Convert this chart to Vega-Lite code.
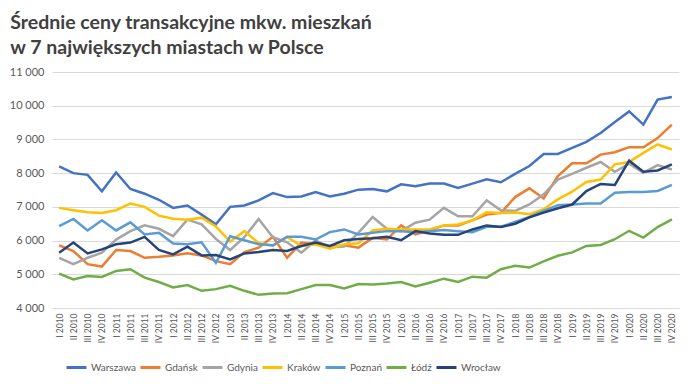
{
"$schema":"https://vega.github.io/schema/vega-lite/v6.json",
"width":627,"height":236,
"autosize":{"type":"none"},
"padding":{"left":52,"top":72,"right":14,"bottom":76},
"background":"white",
"title":{"text":["Średnie ceny transakcyjne mkw. mieszkań","w 7 największych miastach w Polsce"],"anchor":"start","dx":1,"font":"Lato","fontSize":19.5,"fontWeight":"bold","color":"#404040","lineHeight":25,"offset":8},
"config":{"view":{"stroke":null},"font":"Lato"},
"datasets":{"rows":[
{"q":"I 2010","m":"Warszawa","v":8200},{"q":"II 2010","m":"Warszawa","v":8000},{"q":"III 2010","m":"Warszawa","v":7950},{"q":"IV 2010","m":"Warszawa","v":7460},
{"q":"I 2011","m":"Warszawa","v":8020},{"q":"II 2011","m":"Warszawa","v":7530},{"q":"III 2011","m":"Warszawa","v":7390},{"q":"IV 2011","m":"Warszawa","v":7210},
{"q":"I 2012","m":"Warszawa","v":6970},{"q":"II 2012","m":"Warszawa","v":7040},{"q":"III 2012","m":"Warszawa","v":6770},{"q":"IV 2012","m":"Warszawa","v":6480},
{"q":"I 2013","m":"Warszawa","v":7000},{"q":"II 2013","m":"Warszawa","v":7040},{"q":"III 2013","m":"Warszawa","v":7190},{"q":"IV 2013","m":"Warszawa","v":7410},
{"q":"I 2014","m":"Warszawa","v":7290},{"q":"II 2014","m":"Warszawa","v":7310},{"q":"III 2014","m":"Warszawa","v":7440},{"q":"IV 2014","m":"Warszawa","v":7310},
{"q":"I 2015","m":"Warszawa","v":7390},{"q":"II 2015","m":"Warszawa","v":7510},{"q":"III 2015","m":"Warszawa","v":7530},{"q":"IV 2015","m":"Warszawa","v":7460},
{"q":"I 2016","m":"Warszawa","v":7670},{"q":"II 2016","m":"Warszawa","v":7610},{"q":"III 2016","m":"Warszawa","v":7690},{"q":"IV 2016","m":"Warszawa","v":7690},
{"q":"I 2017","m":"Warszawa","v":7560},{"q":"II 2017","m":"Warszawa","v":7690},{"q":"III 2017","m":"Warszawa","v":7820},{"q":"IV 2017","m":"Warszawa","v":7730},
{"q":"I 2018","m":"Warszawa","v":7980},{"q":"II 2018","m":"Warszawa","v":8210},{"q":"III 2018","m":"Warszawa","v":8570},{"q":"IV 2018","m":"Warszawa","v":8570},
{"q":"I 2019","m":"Warszawa","v":8750},{"q":"II 2019","m":"Warszawa","v":8930},{"q":"III 2019","m":"Warszawa","v":9190},{"q":"IV 2019","m":"Warszawa","v":9520},
{"q":"I 2020","m":"Warszawa","v":9830},{"q":"II 2020","m":"Warszawa","v":9440},{"q":"III 2020","m":"Warszawa","v":10180},{"q":"IV 2020","m":"Warszawa","v":10260},
{"q":"I 2010","m":"Gdańsk","v":5860},{"q":"II 2010","m":"Gdańsk","v":5690},{"q":"III 2010","m":"Gdańsk","v":5300},{"q":"IV 2010","m":"Gdańsk","v":5230},
{"q":"I 2011","m":"Gdańsk","v":5720},{"q":"II 2011","m":"Gdańsk","v":5690},{"q":"III 2011","m":"Gdańsk","v":5490},{"q":"IV 2011","m":"Gdańsk","v":5520},
{"q":"I 2012","m":"Gdańsk","v":5560},{"q":"II 2012","m":"Gdańsk","v":5620},{"q":"III 2012","m":"Gdańsk","v":5560},{"q":"IV 2012","m":"Gdańsk","v":5390},
{"q":"I 2013","m":"Gdańsk","v":5300},{"q":"II 2013","m":"Gdańsk","v":5660},{"q":"III 2013","m":"Gdańsk","v":5790},{"q":"IV 2013","m":"Gdańsk","v":6110},
{"q":"I 2014","m":"Gdańsk","v":5490},{"q":"II 2014","m":"Gdańsk","v":5940},{"q":"III 2014","m":"Gdańsk","v":5890},{"q":"IV 2014","m":"Gdańsk","v":5820},
{"q":"I 2015","m":"Gdańsk","v":5860},{"q":"II 2015","m":"Gdańsk","v":5790},{"q":"III 2015","m":"Gdańsk","v":6080},{"q":"IV 2015","m":"Gdańsk","v":6030},
{"q":"I 2016","m":"Gdańsk","v":6450},{"q":"II 2016","m":"Gdańsk","v":6180},{"q":"III 2016","m":"Gdańsk","v":6300},{"q":"IV 2016","m":"Gdańsk","v":6450},
{"q":"I 2017","m":"Gdańsk","v":6450},{"q":"II 2017","m":"Gdańsk","v":6600},{"q":"III 2017","m":"Gdańsk","v":6770},{"q":"IV 2017","m":"Gdańsk","v":6820},
{"q":"I 2018","m":"Gdańsk","v":7290},{"q":"II 2018","m":"Gdańsk","v":7550},{"q":"III 2018","m":"Gdańsk","v":7250},{"q":"IV 2018","m":"Gdańsk","v":7910},
{"q":"I 2019","m":"Gdańsk","v":8290},{"q":"II 2019","m":"Gdańsk","v":8290},{"q":"III 2019","m":"Gdańsk","v":8550},{"q":"IV 2019","m":"Gdańsk","v":8620},
{"q":"I 2020","m":"Gdańsk","v":8770},{"q":"II 2020","m":"Gdańsk","v":8770},{"q":"III 2020","m":"Gdańsk","v":9040},{"q":"IV 2020","m":"Gdańsk","v":9440},
{"q":"I 2010","m":"Gdynia","v":5490},{"q":"II 2010","m":"Gdynia","v":5300},{"q":"III 2010","m":"Gdynia","v":5490},{"q":"IV 2010","m":"Gdynia","v":5640},
{"q":"I 2011","m":"Gdynia","v":6030},{"q":"II 2011","m":"Gdynia","v":6280},{"q":"III 2011","m":"Gdynia","v":6450},{"q":"IV 2011","m":"Gdynia","v":6350},
{"q":"I 2012","m":"Gdynia","v":6130},{"q":"II 2012","m":"Gdynia","v":6620},{"q":"III 2012","m":"Gdynia","v":6480},{"q":"IV 2012","m":"Gdynia","v":6050},
{"q":"I 2013","m":"Gdynia","v":5720},{"q":"II 2013","m":"Gdynia","v":6100},{"q":"III 2013","m":"Gdynia","v":6640},{"q":"IV 2013","m":"Gdynia","v":6100},
{"q":"I 2014","m":"Gdynia","v":5950},{"q":"II 2014","m":"Gdynia","v":5640},{"q":"III 2014","m":"Gdynia","v":6000},{"q":"IV 2014","m":"Gdynia","v":5800},
{"q":"I 2015","m":"Gdynia","v":5820},{"q":"II 2015","m":"Gdynia","v":6230},{"q":"III 2015","m":"Gdynia","v":6700},{"q":"IV 2015","m":"Gdynia","v":6350},
{"q":"I 2016","m":"Gdynia","v":6280},{"q":"II 2016","m":"Gdynia","v":6530},{"q":"III 2016","m":"Gdynia","v":6620},{"q":"IV 2016","m":"Gdynia","v":6970},
{"q":"I 2017","m":"Gdynia","v":6720},{"q":"II 2017","m":"Gdynia","v":6720},{"q":"III 2017","m":"Gdynia","v":7190},{"q":"IV 2017","m":"Gdynia","v":6900},
{"q":"I 2018","m":"Gdynia","v":6880},{"q":"II 2018","m":"Gdynia","v":7070},{"q":"III 2018","m":"Gdynia","v":7370},{"q":"IV 2018","m":"Gdynia","v":7810},
{"q":"I 2019","m":"Gdynia","v":7980},{"q":"II 2019","m":"Gdynia","v":8160},{"q":"III 2019","m":"Gdynia","v":8330},{"q":"IV 2019","m":"Gdynia","v":8040},
{"q":"I 2020","m":"Gdynia","v":8280},{"q":"II 2020","m":"Gdynia","v":8010},{"q":"III 2020","m":"Gdynia","v":8240},{"q":"IV 2020","m":"Gdynia","v":8110},
{"q":"I 2010","m":"Kraków","v":6970},{"q":"II 2010","m":"Kraków","v":6900},{"q":"III 2010","m":"Kraków","v":6840},{"q":"IV 2010","m":"Kraków","v":6820},
{"q":"I 2011","m":"Kraków","v":6900},{"q":"II 2011","m":"Kraków","v":7100},{"q":"III 2011","m":"Kraków","v":7000},{"q":"IV 2011","m":"Kraków","v":6740},
{"q":"I 2012","m":"Kraków","v":6650},{"q":"II 2012","m":"Kraków","v":6620},{"q":"III 2012","m":"Kraków","v":6680},{"q":"IV 2012","m":"Kraków","v":6420},
{"q":"I 2013","m":"Kraków","v":5970},{"q":"II 2013","m":"Kraków","v":6280},{"q":"III 2013","m":"Kraków","v":5930},{"q":"IV 2013","m":"Kraków","v":5840},
{"q":"I 2014","m":"Kraków","v":6110},{"q":"II 2014","m":"Kraków","v":5840},{"q":"III 2014","m":"Kraków","v":5890},{"q":"IV 2014","m":"Kraków","v":5760},
{"q":"I 2015","m":"Kraków","v":5890},{"q":"II 2015","m":"Kraków","v":5920},{"q":"III 2015","m":"Kraków","v":6300},{"q":"IV 2015","m":"Kraków","v":6350},
{"q":"I 2016","m":"Kraków","v":6330},{"q":"II 2016","m":"Kraków","v":6330},{"q":"III 2016","m":"Kraków","v":6330},{"q":"IV 2016","m":"Kraków","v":6450},
{"q":"I 2017","m":"Kraków","v":6480},{"q":"II 2017","m":"Kraków","v":6600},{"q":"III 2017","m":"Kraków","v":6840},{"q":"IV 2017","m":"Kraków","v":6820},
{"q":"I 2018","m":"Kraków","v":6830},{"q":"II 2018","m":"Kraków","v":6780},{"q":"III 2018","m":"Kraków","v":6930},{"q":"IV 2018","m":"Kraków","v":7220},
{"q":"I 2019","m":"Kraków","v":7450},{"q":"II 2019","m":"Kraków","v":7740},{"q":"III 2019","m":"Kraków","v":7810},{"q":"IV 2019","m":"Kraków","v":8260},
{"q":"I 2020","m":"Kraków","v":8330},{"q":"II 2020","m":"Kraków","v":8600},{"q":"III 2020","m":"Kraków","v":8850},{"q":"IV 2020","m":"Kraków","v":8700},
{"q":"I 2010","m":"Poznań","v":6430},{"q":"II 2010","m":"Poznań","v":6640},{"q":"III 2010","m":"Poznań","v":6300},{"q":"IV 2010","m":"Poznań","v":6600},
{"q":"I 2011","m":"Poznań","v":6300},{"q":"II 2011","m":"Poznań","v":6540},{"q":"III 2011","m":"Poznań","v":6180},{"q":"IV 2011","m":"Poznań","v":6230},
{"q":"I 2012","m":"Poznań","v":5910},{"q":"II 2012","m":"Poznań","v":5890},{"q":"III 2012","m":"Poznań","v":5950},{"q":"IV 2012","m":"Poznań","v":5340},
{"q":"I 2013","m":"Poznań","v":6130},{"q":"II 2013","m":"Poznań","v":6010},{"q":"III 2013","m":"Poznań","v":5890},{"q":"IV 2013","m":"Poznań","v":5860},
{"q":"I 2014","m":"Poznań","v":6110},{"q":"II 2014","m":"Poznań","v":6110},{"q":"III 2014","m":"Poznań","v":6030},{"q":"IV 2014","m":"Poznań","v":6250},
{"q":"I 2015","m":"Poznań","v":6330},{"q":"II 2015","m":"Poznań","v":6180},{"q":"III 2015","m":"Poznań","v":6230},{"q":"IV 2015","m":"Poznań","v":6280},
{"q":"I 2016","m":"Poznań","v":6280},{"q":"II 2016","m":"Poznań","v":6250},{"q":"III 2016","m":"Poznań","v":6280},{"q":"IV 2016","m":"Poznań","v":6310},
{"q":"I 2017","m":"Poznań","v":6280},{"q":"II 2017","m":"Poznań","v":6250},{"q":"III 2017","m":"Poznań","v":6410},{"q":"IV 2017","m":"Poznań","v":6410},
{"q":"I 2018","m":"Poznań","v":6550},{"q":"II 2018","m":"Poznań","v":6700},{"q":"III 2018","m":"Poznań","v":6880},{"q":"IV 2018","m":"Poznań","v":7050},
{"q":"I 2019","m":"Poznań","v":7070},{"q":"II 2019","m":"Poznań","v":7100},{"q":"III 2019","m":"Poznań","v":7100},{"q":"IV 2019","m":"Poznań","v":7420},
{"q":"I 2020","m":"Poznań","v":7440},{"q":"II 2020","m":"Poznań","v":7440},{"q":"III 2020","m":"Poznań","v":7470},{"q":"IV 2020","m":"Poznań","v":7650},
{"q":"I 2010","m":"Łódź","v":5020},{"q":"II 2010","m":"Łódź","v":4850},{"q":"III 2010","m":"Łódź","v":4950},{"q":"IV 2010","m":"Łódź","v":4920},
{"q":"I 2011","m":"Łódź","v":5100},{"q":"II 2011","m":"Łódź","v":5150},{"q":"III 2011","m":"Łódź","v":4900},{"q":"IV 2011","m":"Łódź","v":4770},
{"q":"I 2012","m":"Łódź","v":4610},{"q":"II 2012","m":"Łódź","v":4680},{"q":"III 2012","m":"Łódź","v":4510},{"q":"IV 2012","m":"Łódź","v":4560},
{"q":"I 2013","m":"Łódź","v":4660},{"q":"II 2013","m":"Łódź","v":4510},{"q":"III 2013","m":"Łódź","v":4390},{"q":"IV 2013","m":"Łódź","v":4430},
{"q":"I 2014","m":"Łódź","v":4440},{"q":"II 2014","m":"Łódź","v":4560},{"q":"III 2014","m":"Łódź","v":4680},{"q":"IV 2014","m":"Łódź","v":4680},
{"q":"I 2015","m":"Łódź","v":4580},{"q":"II 2015","m":"Łódź","v":4710},{"q":"III 2015","m":"Łódź","v":4700},{"q":"IV 2015","m":"Łódź","v":4730},
{"q":"I 2016","m":"Łódź","v":4770},{"q":"II 2016","m":"Łódź","v":4640},{"q":"III 2016","m":"Łódź","v":4750},{"q":"IV 2016","m":"Łódź","v":4870},
{"q":"I 2017","m":"Łódź","v":4770},{"q":"II 2017","m":"Łódź","v":4930},{"q":"III 2017","m":"Łódź","v":4900},{"q":"IV 2017","m":"Łódź","v":5150},
{"q":"I 2018","m":"Łódź","v":5250},{"q":"II 2018","m":"Łódź","v":5200},{"q":"III 2018","m":"Łódź","v":5380},{"q":"IV 2018","m":"Łódź","v":5550},
{"q":"I 2019","m":"Łódź","v":5650},{"q":"II 2019","m":"Łódź","v":5840},{"q":"III 2019","m":"Łódź","v":5870},{"q":"IV 2019","m":"Łódź","v":6040},
{"q":"I 2020","m":"Łódź","v":6290},{"q":"II 2020","m":"Łódź","v":6090},{"q":"III 2020","m":"Łódź","v":6400},{"q":"IV 2020","m":"Łódź","v":6630},
{"q":"I 2010","m":"Wrocław","v":5640},{"q":"II 2010","m":"Wrocław","v":5940},{"q":"III 2010","m":"Wrocław","v":5620},{"q":"IV 2010","m":"Wrocław","v":5740},
{"q":"I 2011","m":"Wrocław","v":5890},{"q":"II 2011","m":"Wrocław","v":5940},{"q":"III 2011","m":"Wrocław","v":6110},{"q":"IV 2011","m":"Wrocław","v":5720},
{"q":"I 2012","m":"Wrocław","v":5590},{"q":"II 2012","m":"Wrocław","v":5820},{"q":"III 2012","m":"Wrocław","v":5560},{"q":"IV 2012","m":"Wrocław","v":5570},
{"q":"I 2013","m":"Wrocław","v":5440},{"q":"II 2013","m":"Wrocław","v":5620},{"q":"III 2013","m":"Wrocław","v":5660},{"q":"IV 2013","m":"Wrocław","v":5720},
{"q":"I 2014","m":"Wrocław","v":5690},{"q":"II 2014","m":"Wrocław","v":5840},{"q":"III 2014","m":"Wrocław","v":5940},{"q":"IV 2014","m":"Wrocław","v":5840},
{"q":"I 2015","m":"Wrocław","v":6010},{"q":"II 2015","m":"Wrocław","v":6050},{"q":"III 2015","m":"Wrocław","v":6070},{"q":"IV 2015","m":"Wrocław","v":6110},
{"q":"I 2016","m":"Wrocław","v":6010},{"q":"II 2016","m":"Wrocław","v":6280},{"q":"III 2016","m":"Wrocław","v":6210},{"q":"IV 2016","m":"Wrocław","v":6170},
{"q":"I 2017","m":"Wrocław","v":6170},{"q":"II 2017","m":"Wrocław","v":6330},{"q":"III 2017","m":"Wrocław","v":6450},{"q":"IV 2017","m":"Wrocław","v":6400},
{"q":"I 2018","m":"Wrocław","v":6500},{"q":"II 2018","m":"Wrocław","v":6690},{"q":"III 2018","m":"Wrocław","v":6830},{"q":"IV 2018","m":"Wrocław","v":6960},
{"q":"I 2019","m":"Wrocław","v":7070},{"q":"II 2019","m":"Wrocław","v":7470},{"q":"III 2019","m":"Wrocław","v":7680},{"q":"IV 2019","m":"Wrocław","v":7650},
{"q":"I 2020","m":"Wrocław","v":8370},{"q":"II 2020","m":"Wrocław","v":8040},{"q":"III 2020","m":"Wrocław","v":8080},{"q":"IV 2020","m":"Wrocław","v":8260}
]},
"data":{"name":"rows"},
"mark":{"type":"line","strokeWidth":2.5},
"encoding":{
"x":{"field":"q","type":"ordinal","sort":null,"scale":{"type":"point","padding":0.5},
"axis":{"title":null,"labelAngle":-90,"labelFontSize":8.5,"labelColor":"#595959","ticks":false,"domain":false,"labelPadding":5,"grid":false}},
"y":{"field":"v","type":"quantitative","scale":{"domain":[4000,11000],"nice":false},
"axis":{"title":null,"values":[4000,5000,6000,7000,8000,9000,10000,11000],"labelExpr":"replace(format(datum.value, ','), ',', ' ')","gridColor":"#D9D9D9","domain":false,"ticks":false,"labelPadding":8,"labelFontSize":11,"labelColor":"#595959"}},
"color":{"field":"m","type":"nominal",
"scale":{"domain":["Warszawa","Gdańsk","Gdynia","Kraków","Poznań","Łódź","Wrocław"],"range":["#4472C4","#ED7D31","#A5A5A5","#FFC000","#5B9BD5","#70AD47","#264478"]},
"legend":{"title":null,"orient":"none","legendX":13,"legendY":284,"direction":"horizontal","columns":7,"gridAlign":"none","symbolType":"stroke","symbolSize":400,"symbolStrokeWidth":3,"labelFontSize":10,"labelColor":"#595959","columnPadding":-2,"labelOffset":3}}
}
}
